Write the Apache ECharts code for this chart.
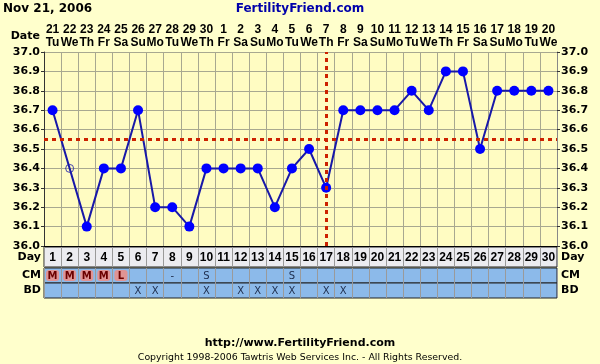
<!DOCTYPE html>
<html><head><meta charset="utf-8">
<script src="https://cdn.jsdelivr.net/npm/echarts@6/dist/echarts.min.js"></script>
<style>html,body{margin:0;padding:0;background:#ffffcc;}#c{width:600px;height:364px;}</style>
</head><body><div id="c"></div>
<script>
const days = ['1','2','3','4','5','6','7','8','9','10','11','12','13','14','15','16','17','18','19','20','21','22','23','24','25','26','27','28','29','30'];
const dates = ['21','22','23','24','25','26','27','28','29','30','1','2','3','4','5','6','7','8','9','10','11','12','13','14','15','16','17','18','19','20'];
const weekdays = ['Tu','We','Th','Fr','Sa','Su','Mo','Tu','We','Th','Fr','Sa','Su','Mo','Tu','We','Th','Fr','Sa','Su','Mo','Tu','We','Th','Fr','Sa','Su','Mo','Tu','We'];
const temps = [36.7, null, 36.1, 36.4, 36.4, 36.7, 36.2, 36.2, 36.1, 36.4, 36.4, 36.4, 36.4, 36.2, 36.4, 36.5, 36.3, 36.7, 36.7, 36.7, 36.7, 36.8, 36.7, 36.9, 36.9, 36.5, 36.8, 36.8, 36.8, 36.8];
const discarded = [null, 36.4, null, null, null, null, null, null, null, null, null, null, null, null, null, null, null, null, null, null, null, null, null, null, null, null, null, null, null, null];
const coverline = 36.55;
const ovulationDay = '17';
const cm = ['M','M','M','M','L','','','-','','S','','','','','S','','','','','','','','','','','','','','',''];
const bd = ['','','','','','X','X','','','X','','X','X','X','X','','X','X','','','','','','','','','','','',''];
const yTicks = [36.0, 36.1, 36.2, 36.3, 36.4, 36.5, 36.6, 36.7, 36.8, 36.9, 37.0];

const FONT = 'DejaVu Sans';
const NFONT = 'Liberation Sans';
const gridLineColor = '#a8a890';
const chart = echarts.init(document.getElementById('c'));

function rowGrid(top, height, bg) {
  return {left: 44, right: 43, top: top, height: height, show: true, backgroundColor: bg, borderColor: '#222', borderWidth: 1};
}
function rowX(gi) {
  return {type: 'category', gridIndex: gi, data: days, boundaryGap: true,
    axisLine: {show: false}, axisTick: {show: false}, axisLabel: {show: false},
    splitLine: {show: true, interval: 0, lineStyle: {color: '#9a9a9a', width: 1}}};
}
function rowY(gi, name, pos) {
  return {type: 'category', gridIndex: gi, data: [name], position: pos,
    axisLine: {show: false}, axisTick: {show: false}, splitLine: {show: false},
    axisLabel: {color: '#000', fontFamily: FONT, fontWeight: 'bold', fontSize: 11, margin: pos === 'left' ? 3 : 4}};
}
function textSeries(xi, yi, values, cellStyle) {
  return {
    type: 'custom', xAxisIndex: xi, yAxisIndex: yi, silent: true,
    data: values.map((v, i) => [i, 0, v]),
    renderItem: function (params, api) {
      const idx = api.value(0);
      const txt = values[idx];
      if (!txt) return null;
      const p = api.coord([idx, 0]);
      const s = api.size([1, 1]);
      const children = [];
      const st = cellStyle(txt);
      if (st.fill) {
        children.push({type: 'rect', shape: {x: p[0] - s[0] / 2 + 2, y: p[1] - s[1] / 2 + 2, width: s[0] - 4, height: s[1] - 4, r: 3}, style: {fill: st.fill}});
      }
      children.push({type: 'text', style: {text: txt, x: p[0], y: p[1] + 1, align: 'center', verticalAlign: 'middle', fill: st.color, font: st.font}});
      return {type: 'group', children: children};
    }
  };
}

chart.setOption({
  backgroundColor: '#ffffcc',
  animation: false,
  graphic: [
    {type: 'text', left: 3, top: 3, style: {text: 'Nov 21, 2006', font: 'bold 12px ' + FONT, fill: '#000'}},
    {type: 'text', left: 'center', top: 3, style: {text: 'FertilityFriend.com', font: 'bold 12px ' + FONT, fill: '#0000aa'}},
    {type: 'text', right: 560, top: 31, style: {text: 'Date', font: 'bold 11px ' + FONT, fill: '#000', align: 'right'}},
    {type: 'text', left: 'center', top: 338, style: {text: 'http://www.FertilityFriend.com', font: 'bold 11px ' + FONT, fill: '#000'}},
    {type: 'text', left: 'center', top: 353, style: {text: 'Copyright 1998-2006 Tawtris Web Services Inc. - All Rights Reserved.', font: '9.4px ' + FONT, fill: '#000'}}
  ],
  grid: [
    {left: 44, right: 43, top: 52, bottom: 118, show: true, backgroundColor: '#fffcc2', borderWidth: 0},
    rowGrid(247, 20, '#ececf0'),
    rowGrid(268, 15, '#8cbaea'),
    rowGrid(283, 15, '#8cbaea')
  ],
  xAxis: [
    {type: 'category', gridIndex: 0, data: days, boundaryGap: true, position: 'bottom',
      axisLine: {show: true, lineStyle: {color: '#000', width: 1}}, axisTick: {show: false}, axisLabel: {show: false},
      splitLine: {show: true, interval: 0, lineStyle: {color: gridLineColor, width: 1}}},
    {type: 'category', gridIndex: 0, data: days, boundaryGap: true, position: 'top',
      axisLine: {show: false}, axisTick: {show: false}, splitLine: {show: false},
      axisLabel: {interval: 0, margin: 3, color: '#000', lineHeight: 13, fontFamily: NFONT, fontWeight: 'bold', fontSize: 12,
        formatter: (v, i) => dates[i] + '\n' + weekdays[i]}},
    rowX(1), rowX(2), rowX(3)
  ],
  yAxis: [
    {type: 'value', gridIndex: 0, min: yTicks[0], max: yTicks[yTicks.length - 1], interval: 0.1, position: 'left',
      axisLine: {show: true, lineStyle: {color: '#333'}}, axisTick: {show: true, length: 3, lineStyle: {color: '#333'}},
      splitLine: {show: true, lineStyle: {color: gridLineColor, width: 1}},
      axisLabel: {color: '#000', fontFamily: FONT, fontWeight: 'bold', fontSize: 11, margin: 4, formatter: v => v.toFixed(1)}},
    {type: 'value', gridIndex: 0, min: yTicks[0], max: yTicks[yTicks.length - 1], interval: 0.1, position: 'right',
      axisLine: {show: true, lineStyle: {color: '#888'}}, axisTick: {show: true, length: 3, lineStyle: {color: '#333'}},
      splitLine: {show: false},
      axisLabel: {color: '#000', fontFamily: FONT, fontWeight: 'bold', fontSize: 11, margin: 4, formatter: v => v.toFixed(1)}},
    rowY(1, 'Day', 'left'), rowY(1, 'Day', 'right'),
    rowY(2, 'CM', 'left'), rowY(2, 'CM', 'right'),
    rowY(3, 'BD', 'left'), rowY(3, 'BD', 'right')
  ],
  series: [
    {type: 'line', xAxisIndex: 0, yAxisIndex: 0, data: temps, connectNulls: true,
      symbol: 'circle', symbolSize: 10, itemStyle: {color: '#0000ff'},
      lineStyle: {color: '#1818a8', width: 2}, z: 3,
      markLine: {silent: true, symbol: 'none', label: {show: false}, z: 4,
        lineStyle: {color: '#cc2200', width: 3, type: [4, 4]},
        data: [{yAxis: coverline}, {xAxis: ovulationDay}]}},
    {type: 'scatter', xAxisIndex: 0, yAxisIndex: 0, data: discarded, symbol: 'circle', symbolSize: 8,
      itemStyle: {color: 'rgba(0,0,0,0)', borderColor: '#1818a8', borderWidth: 1}, z: 5},
    textSeries(2, 2, days, () => ({color: '#000', font: 'bold 12px ' + NFONT})),
    textSeries(3, 4, cm, t => (t === 'M' || t === 'L') ? {fill: '#e09494', color: '#6a0000', font: 'bold 10px ' + FONT} : {color: '#203050', font: '10px ' + FONT}),
    textSeries(4, 6, bd, () => ({color: '#203050', font: '10px ' + FONT}))
  ]
});
</script></body></html>
